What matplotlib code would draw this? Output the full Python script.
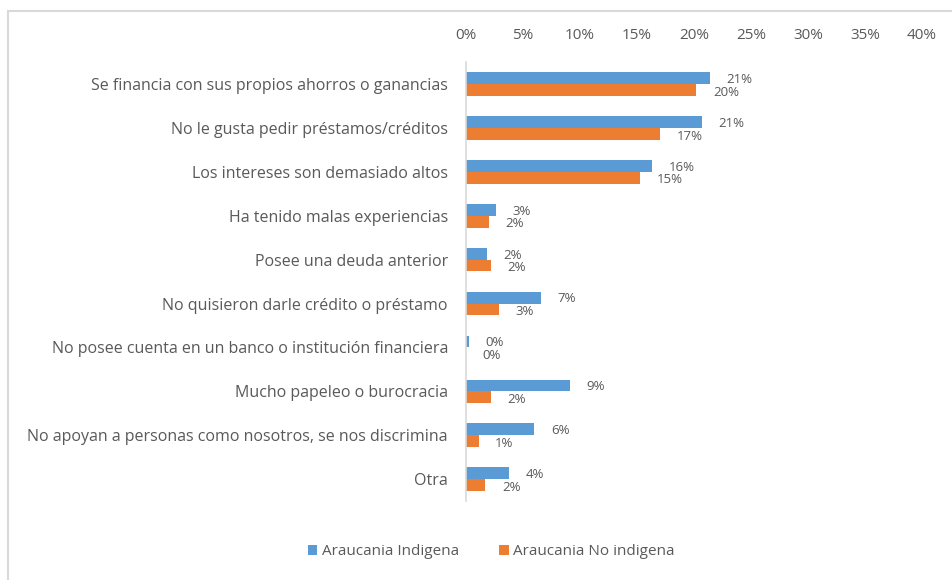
import matplotlib.pyplot as plt
from matplotlib.lines import Line2D
import numpy as np

plt.rcParams['font.family'] = ['Open Sans', 'DejaVu Sans']

categorias = [
    'Se financia con sus propios ahorros o ganancias',
    'No le gusta pedir préstamos/créditos',
    'Los intereses son demasiado altos',
    'Ha tenido malas experiencias',
    'Posee una deuda anterior',
    'No quisieron darle crédito o préstamo',
    'No posee cuenta en un banco o institución financiera',
    'Mucho papeleo o burocracia',
    'No apoyan a personas como nosotros, se nos discrimina',
    'Otra',
]
indigena = [21.4, 20.7, 16.3, 2.6, 1.8, 6.6, 0.25, 9.15, 6.0, 3.8]
no_indigena = [20.2, 17.0, 15.3, 2.0, 2.2, 2.9, 0.0, 2.2, 1.1, 1.7]
ticks = [0, 5, 10, 15, 20, 25, 30, 35, 40]

azul = '#5B9BD5'
naranja = '#ED7D31'
gris = '#595959'

fig = plt.figure(figsize=(9.52, 5.8), dpi=100)
ax = fig.add_axes([0.4895, 0.136, 0.479, 0.757])

y = np.arange(len(categorias))
h = 0.27
ax.barh(y - h / 2, indigena, height=h, color=azul, label='Araucania Indigena')
ax.barh(y + h / 2, no_indigena, height=h, color=naranja, label='Araucania No indigena')

for yi, v in zip(y, indigena):
    ax.text(v + 1.45, yi - h / 2 + 0.03, f'{round(v):.0f}%', va='center', ha='left',
            fontsize=9.5, color=gris)
for yi, v in zip(y, no_indigena):
    ax.text(v + 1.45, yi + h / 2 + 0.05, f'{round(v):.0f}%', va='center', ha='left',
            fontsize=9.5, color=gris)

ax.set_xlim(0, 40)
ax.set_ylim(len(categorias) - 0.5, -0.5)
ax.set_xticks(ticks)
ax.set_xticklabels([f'{t}%' for t in ticks])
ax.xaxis.tick_top()
ax.set_yticks(y)
ax.set_yticklabels(categorias)
ax.tick_params(axis='both', length=0, colors=gris, labelsize=11)
ax.tick_params(axis='y', labelsize=11.5, pad=13)
ax.tick_params(axis='x', pad=14)
for s in ['top', 'right', 'bottom']:
    ax.spines[s].set_visible(False)
ax.spines['left'].set_color('#D9D9D9')
ax.spines['left'].set_linewidth(1.2)

fig.legend(loc='lower center', bbox_to_anchor=(0.516, 0.012), ncol=2, frameon=False,
           fontsize=11, labelcolor=gris, handlelength=0.65, handleheight=0.65,
           columnspacing=2.6, handletextpad=0.3)

# borde del grafico
fig.add_artist(Line2D([8 / 952, 1], [1 - 11 / 580] * 2, color='#D9D9D9', lw=1.5,
                      transform=fig.transFigure))
fig.add_artist(Line2D([8 / 952] * 2, [0, 1 - 11 / 580], color='#D9D9D9', lw=1.5,
                      transform=fig.transFigure))

fig.savefig('out.png', dpi=100)
